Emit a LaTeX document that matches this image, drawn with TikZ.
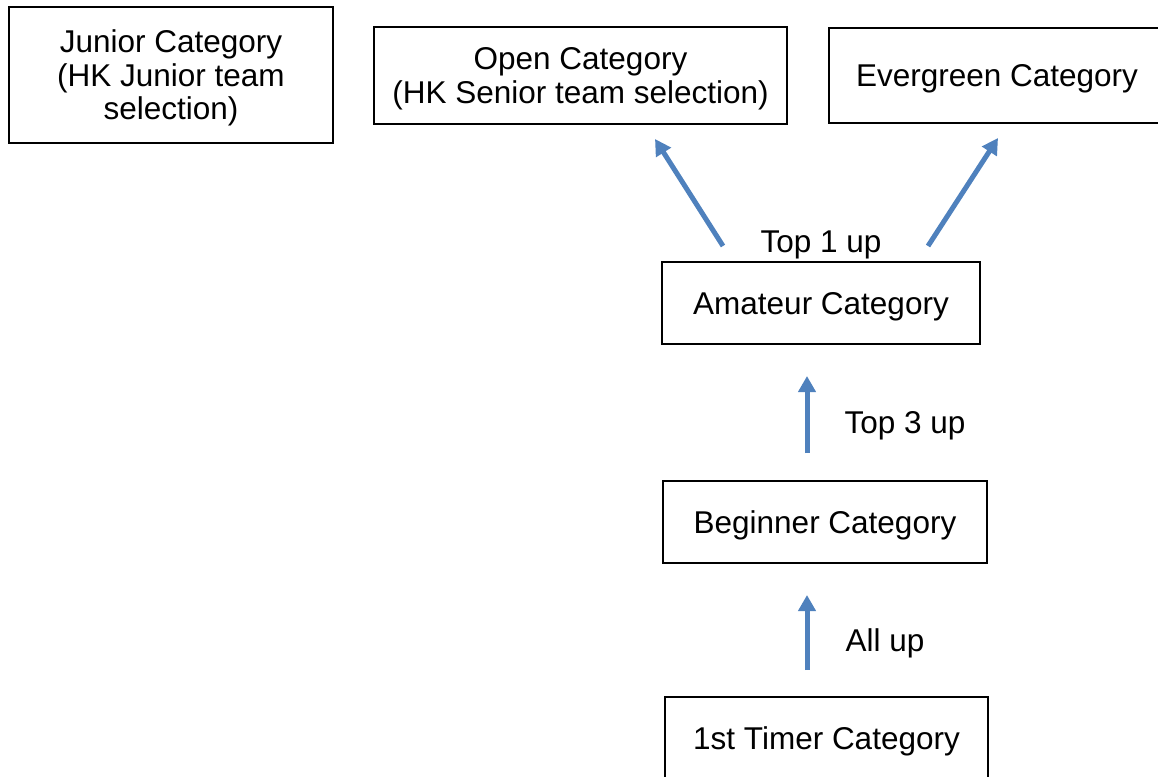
\documentclass[tikz,border=0pt]{standalone}
\usepackage{fontspec}
\setmainfont{Liberation Sans}
\usetikzlibrary{arrows.meta}
\definecolor{arrblue}{HTML}{4F81BD}
\tikzset{
  box/.style={draw=black, line width=1.5pt, inner sep=0pt, align=center,
    text depth=0pt, font=\fontsize{31.5}{33.5}\selectfont},
  lbl/.style={inner sep=0pt, text depth=0pt, font=\fontsize{31.5}{34}\selectfont},
  arr/.style={draw=arrblue, line width=5pt, -{Triangle[length=16pt,width=17pt]}}
}
\begin{document}
\begin{tikzpicture}[x=1pt,y=-1pt]
\useasboundingbox (0,0) rectangle (1158,776);
\clip (0,0) rectangle (1158,776);
\node[box, minimum width=324pt, minimum height=136pt] (junior) at (171,75) {Junior Category\\(HK Junior team\\selection)};
\node[box, minimum width=413pt, minimum height=97pt] (open) at (580.5,75.5) {Open Category\\(HK Senior team selection)};
\node[box, minimum width=336pt, minimum height=95pt] (ever) at (997,75.5) {Evergreen Category};
\node[box, minimum width=318pt, minimum height=82pt] (amat) at (821,303) {Amateur Category};
\node[box, minimum width=324pt, minimum height=82pt] (beg) at (825,522) {Beginner Category};
\node[box, minimum width=323pt, minimum height=82pt] (first) at (826.5,738) {1st Timer Category};
\coordinate (l1s) at (723,246);
\coordinate (l1e) at (655,139);
\coordinate (r1s) at (928,246);
\coordinate (r1e) at (998,138);
\coordinate (m1s) at (807,453);
\coordinate (m1e) at (807,376);
\coordinate (b1s) at (807,670);
\coordinate (b1e) at (807,595);
\draw[arr] (l1s) -- (l1e);
\draw[arr] (r1s) -- (r1e);
\draw[arr] (m1s) -- (m1e);
\draw[arr] (b1s) -- (b1e);
\node[lbl] (t1) at (821,242) {Top 1 up};
\node[lbl] (t3) at (905,422) {Top 3 up};
\node[lbl] (all) at (885,640) {All up};
\end{tikzpicture}
\end{document}
